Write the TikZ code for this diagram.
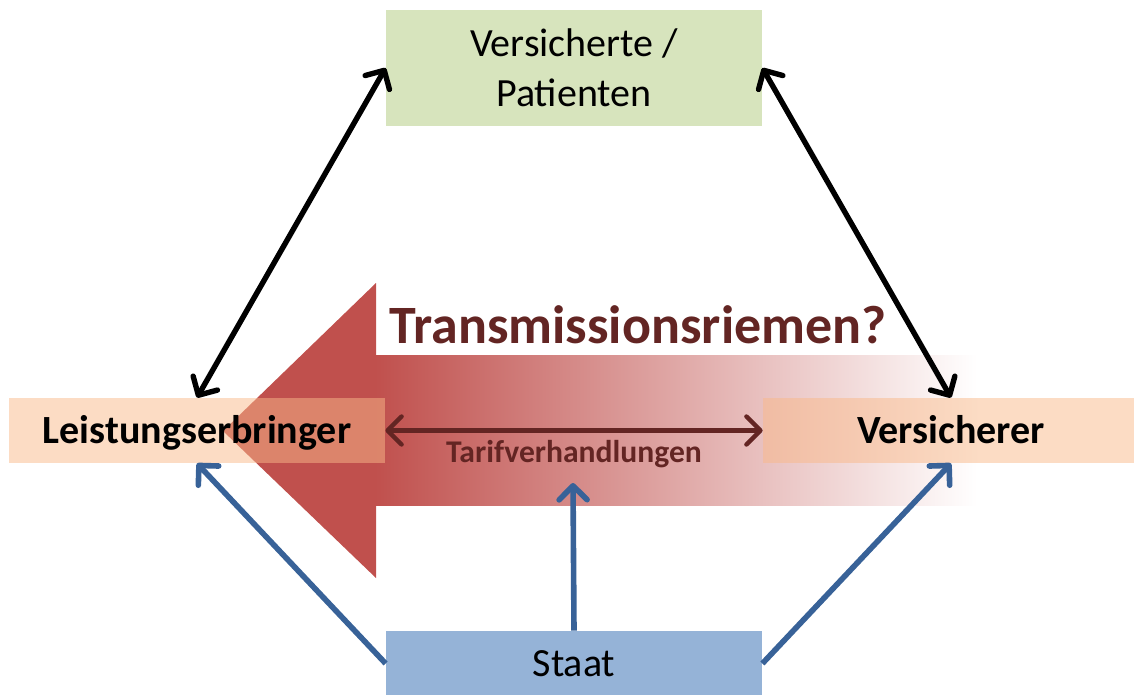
\documentclass[tikz,border=0pt]{standalone}
\usepackage{fontspec}
\setmainfont{Carlito}
\usetikzlibrary{arrows.meta}
\definecolor{arrowred}{RGB}{192,80,77}
\definecolor{darkred}{RGB}{99,37,35}
\definecolor{linkblue}{RGB}{56,98,152}
\definecolor{boxgreen}{RGB}{215,228,189}
\definecolor{boxblue}{RGB}{149,179,215}
\definecolor{boxpeach}{RGB}{249,185,137}
\tikzset{
	party/.style    = {rectangle, inner sep=0pt, minimum width=188pt,
		font=\fontsize{20}{25}\selectfont},
	actor/.style    = {party, fill=boxpeach, fill opacity=0.5, text opacity=1,
		font=\fontsize{20}{25}\selectfont\bfseries, minimum height=32.5pt,
		text height=12.9pt, text depth=0pt},
	link/.style     = {<->, line width=2.7pt},
	rule/.style     = {->, linkblue, line width=2.8pt},
	talk/.style     = {<->, darkred, line width=2.2pt}
}

\begin{document}
\begin{tikzpicture}[x=0.5pt, y=-0.5pt, >={Straight Barb[length=7pt,width=14pt,round]}]
	\useasboundingbox (0,0) rectangle (1134,695);

	% big arrow
	\shade[left color=arrowred, right color=white] (375,355) rectangle (977,505);
	\fill[arrowred] (376,283) -- (223,431) -- (376,578) -- cycle;

	\draw
	node at (574,68) [party, fill=boxgreen, minimum height=58pt, align=center] (vp) {Versicherte /\\Patienten}
	node at (197,430.5) [actor] (le) {Leistungserbringer}
	node at (951,430.5) [actor] (vs) {Versicherer}
	node at (574,663.5) [party, fill=boxblue, minimum height=32.5pt, text height=12.9pt, text depth=0pt] (st) {Staat}
	node at (638,343) [anchor=base, darkred, font=\fontsize{27}{30}\selectfont\bfseries] (title) {Transmissionsriemen?}
	node at (574,462) [anchor=base, darkred, font=\fontsize{15.8}{18}\selectfont\bfseries] (tarif) {Tarifverhandlungen};
	\coordinate (tv) at (573,483);

	\draw[link](le.north)--(vp.west);
	\draw[link](vs.north)--(vp.east);
	\draw[talk](le.east)--(vs.west);
	\draw[rule](st.west)--(le.south);
	\draw[rule](st.east)--(vs.south);
	\draw[rule](st.north)--(tv);
\end{tikzpicture}
\end{document}
